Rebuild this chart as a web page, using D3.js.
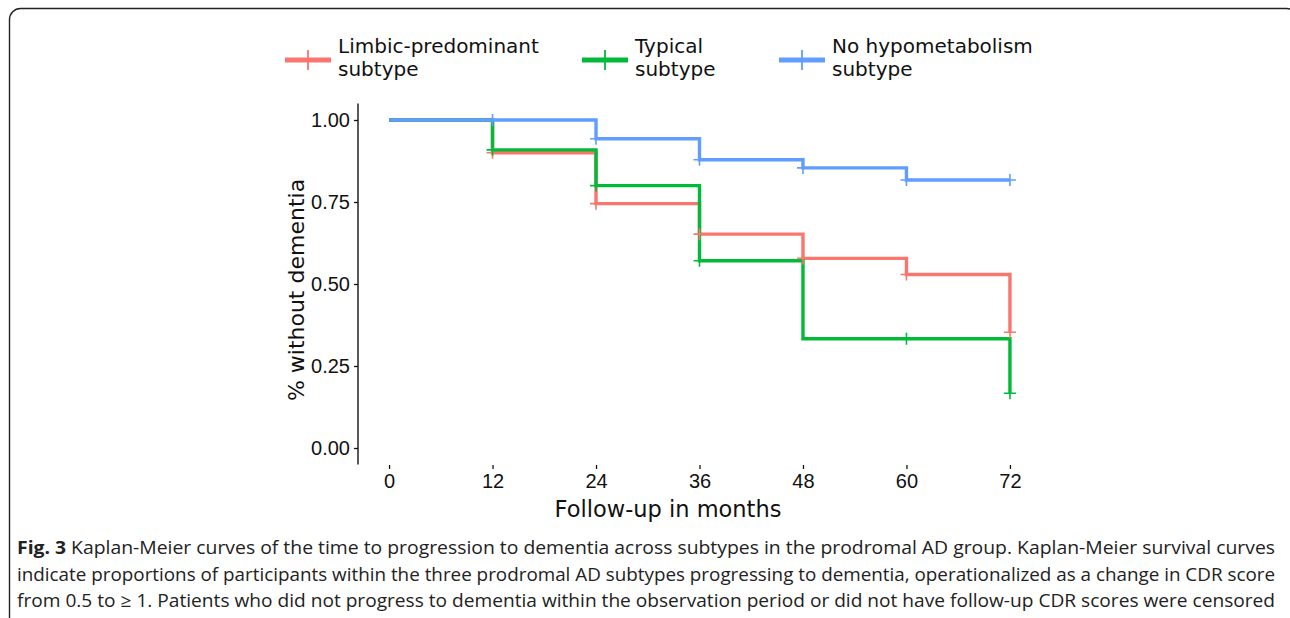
<!DOCTYPE html>
<html>
<head>
<meta charset="utf-8">
<script src="https://cdnjs.cloudflare.com/ajax/libs/d3/7.8.5/d3.min.js"></script>
<style>
  html, body { margin: 0; padding: 0; background: #fff; }
  svg { display: block; }
</style>
</head>
<body>
<div class="chart"></div>
<script>
// follow-up visits (months)
var months = [0, 12, 24, 36, 48, 60, 72];
var yTicks = [0, 0.25, 0.5, 0.75, 1];

// survival estimate at each visit
var limbicSurv = [1.000, 0.900, 0.745, 0.652, 0.578, 0.529, 0.353];
var typicalSurv = [1.000, 0.909, 0.800, 0.571, 0.333, 0.333, 0.167];
var noHypoSurv = [1.000, 1.000, 0.943, 0.879, 0.854, 0.817, 0.817];

// months with censored participants
var limbicCensor = [12, 24, 36, 48, 60, 72];
var typicalCensor = [12, 24, 36, 60, 72];
var noHypoCensor = [12, 24, 36, 48, 60, 72];

var seriesNames = [['Limbic-predominant', 'subtype'], ['Typical', 'subtype'], ['No hypometabolism', 'subtype']];
var seriesColors = ['#F8766D', '#00BA38', '#619CFF'];

var caption = [
  'Kaplan-Meier curves of the time to progression to dementia across subtypes in the prodromal AD group. Kaplan-Meier survival curves',
  'indicate proportions of participants within the three prodromal AD subtypes progressing to dementia, operationalized as a change in CDR score',
  'from 0.5 to \u2265 1. Patients who did not progress to dementia within the observation period or did not have follow-up CDR scores were censored'
];

var width = 1290, height = 618;

var svg = d3.select('.chart').append('svg')
  .attr('width', width)
  .attr('height', height);

// figure frame
svg.append('rect')
  .attr('x', 9.5).attr('y', 8.5)
  .attr('width', 1288).attr('height', 640)
  .attr('rx', 11)
  .attr('fill', 'none')
  .attr('stroke', '#222')
  .attr('stroke-width', 1.4);

// ggplot-style expansion of 5% on each side
var x = d3.scaleLinear().domain([-3.6, 75.6]).range([358, 1041]);
var y = d3.scaleLinear().domain([-0.05, 1.05]).range([464.4, 103.6]);

var series = [
  { name: seriesNames[0], color: seriesColors[0], surv: limbicSurv, censor: limbicCensor },
  { name: seriesNames[1], color: seriesColors[1], surv: typicalSurv, censor: typicalCensor },
  { name: seriesNames[2], color: seriesColors[2], surv: noHypoSurv, censor: noHypoCensor }
];

// y axis (with line), x axis (ticks only)
var yAxis = svg.append('g')
  .attr('transform', 'translate(358,0)')
  .call(d3.axisLeft(y).tickValues(yTicks).tickFormat(d3.format('.2f')).tickSize(4).tickPadding(4));
yAxis.select('.domain').attr('d', 'M0,' + y.range()[0] + 'V' + y.range()[1]).attr('stroke-width', 1.3);

var xAxis = svg.append('g')
  .attr('transform', 'translate(0,465)')
  .call(d3.axisBottom(x).tickValues(months).tickSize(4).tickPadding(5));
xAxis.select('.domain').remove();

svg.selectAll('.tick text')
  .attr('font-family', '"Liberation Sans", Arial, sans-serif')
  .attr('font-size', 20)
  .attr('fill', '#111');
svg.selectAll('.tick line').attr('stroke', '#111').attr('stroke-width', 1.3);

svg.append('text')
  .attr('transform', 'translate(304,290) rotate(-90)')
  .attr('text-anchor', 'middle')
  .attr('font-family', '"DejaVu Sans", sans-serif')
  .attr('font-size', 22)
  .attr('fill', '#111')
  .text('% without dementia');

svg.append('text')
  .attr('x', 668).attr('y', 517)
  .attr('text-anchor', 'middle')
  .attr('font-family', '"DejaVu Sans", sans-serif')
  .attr('font-size', 22.5)
  .attr('fill', '#111')
  .text('Follow-up in months');

// step curves
var line = d3.line()
  .x(function(d) { return x(d[0]); })
  .y(function(d) { return y(d[1]); })
  .curve(d3.curveStepAfter);

function pairs(s) {
  return months.map(function(m, i) { return [m, s.surv[i]]; });
}

function censorPoints(s) {
  return s.censor.map(function(m) { return [m, s.surv[months.indexOf(m)]]; });
}

function plusPath(cx, cy, r) {
  return 'M' + (cx - r) + ',' + cy + 'H' + (cx + r) + 'M' + cx + ',' + (cy - r) + 'V' + (cy + r);
}

var curves = svg.append('g').attr('class', 'curves');

curves.selectAll('.km')
  .data(series)
  .enter().append('path')
  .attr('class', 'km')
  .attr('d', function(s) { return line(pairs(s)); })
  .attr('fill', 'none')
  .attr('stroke', function(s) { return s.color; })
  .attr('stroke-width', 3.4);

series.forEach(function(s) {
  curves.append('g')
    .selectAll('path')
    .data(censorPoints(s))
    .enter().append('path')
    .attr('d', function(d) { return plusPath(x(d[0]), y(d[1]), 6); })
    .attr('stroke', s.color)
    .attr('stroke-width', 1.6)
    .attr('fill', 'none');
});

// legend
var legendX = [285, 582, 779];
var legend = svg.append('g').attr('class', 'legend');
series.forEach(function(s, i) {
  var g = legend.append('g').attr('transform', 'translate(' + legendX[i] + ',0)');
  g.append('path')
    .attr('d', 'M0,60H46')
    .attr('stroke', s.color)
    .attr('stroke-width', 5);
  g.append('path')
    .attr('d', plusPath(23, 60, 10))
    .attr('stroke', s.color)
    .attr('stroke-width', 1.8);
  g.selectAll('text')
    .data(s.name)
    .enter().append('text')
    .attr('x', 53)
    .attr('y', function(d, j) { return 53 + j * 23; })
    .attr('font-family', '"DejaVu Sans", sans-serif')
    .attr('font-size', 20)
    .attr('fill', '#111')
    .text(function(d) { return d; });
});

// caption
var capFont = '"Open Sans", "Liberation Sans Narrow", sans-serif';
var cap = svg.append('g').attr('class', 'caption');
caption.forEach(function(t, i) {
  var txt = cap.append('text')
    .attr('x', 17)
    .attr('y', 554 + i * 26.5)
    .attr('font-family', capFont)
    .attr('font-size', 18)
    .attr('fill', '#222')
    .attr('textLength', 1258)
    .attr('lengthAdjust', 'spacingAndGlyphs');
  if (i === 0) {
    txt.append('tspan').attr('font-weight', 'bold').text('Fig. 3');
    txt.append('tspan').text(' ' + t);
  } else {
    txt.text(t);
  }
});
</script>
</body>
</html>
